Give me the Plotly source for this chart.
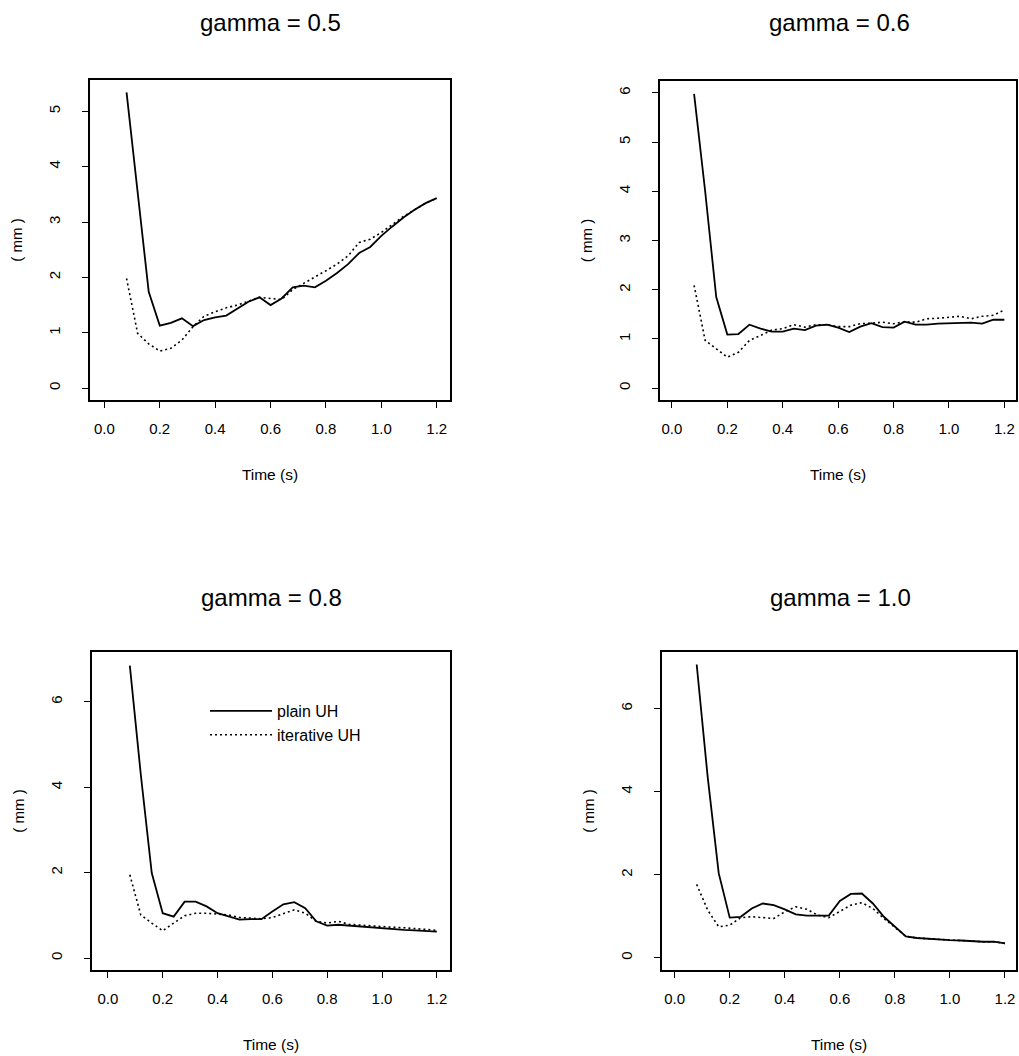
import plotly.graph_objects as go

# ---- data ----
time_s = [0.08, 0.12, 0.16, 0.20, 0.24, 0.28, 0.32, 0.36, 0.40, 0.44, 0.48, 0.52, 0.56, 0.60,
          0.64, 0.68, 0.72, 0.76, 0.80, 0.84, 0.88, 0.92, 0.96, 1.00, 1.04, 1.08, 1.12, 1.16, 1.20]

titles = ["gamma = 0.5", "gamma = 0.6", "gamma = 0.8", "gamma = 1.0"]

plain_g05 = [5.34, 3.55, 1.74, 1.13, 1.18, 1.26, 1.12, 1.23, 1.28, 1.31, 1.44, 1.56, 1.64, 1.50,
             1.62, 1.82, 1.85, 1.82, 1.94, 2.08, 2.24, 2.44, 2.55, 2.75, 2.92, 3.08, 3.22, 3.34, 3.43]
iter_g05 = [1.98, 0.99, 0.80, 0.67, 0.72, 0.87, 1.11, 1.30, 1.38, 1.45, 1.50, 1.57, 1.64, 1.62,
            1.60, 1.78, 1.89, 2.00, 2.12, 2.24, 2.39, 2.63, 2.69, 2.81, 2.95, 3.10, 3.22, 3.34, 3.43]

plain_g06 = [5.98, 4.00, 1.85, 1.09, 1.10, 1.29, 1.21, 1.15, 1.15, 1.21, 1.18, 1.27, 1.29, 1.23,
             1.14, 1.25, 1.32, 1.24, 1.23, 1.35, 1.29, 1.29, 1.31, 1.32, 1.33, 1.33, 1.31, 1.39, 1.39]
iter_g06 = [2.09, 0.97, 0.80, 0.63, 0.73, 0.97, 1.07, 1.18, 1.21, 1.29, 1.24, 1.29, 1.29, 1.25,
            1.25, 1.31, 1.32, 1.34, 1.31, 1.35, 1.34, 1.41, 1.42, 1.44, 1.46, 1.41, 1.46, 1.48, 1.59]

plain_g08 = [6.85, 4.30, 1.99, 1.05, 0.97, 1.32, 1.32, 1.21, 1.05, 0.97, 0.90, 0.91, 0.91, 1.09,
             1.26, 1.31, 1.17, 0.86, 0.76, 0.78, 0.76, 0.74, 0.71, 0.69, 0.68, 0.66, 0.65, 0.63, 0.62]
iter_g08 = [1.95, 1.01, 0.82, 0.64, 0.82, 0.99, 1.05, 1.05, 1.03, 1.01, 0.95, 0.93, 0.92, 0.95,
            1.04, 1.13, 1.05, 0.86, 0.82, 0.86, 0.79, 0.77, 0.76, 0.74, 0.72, 0.71, 0.69, 0.68, 0.65]

plain_g10 = [7.06, 4.35, 2.04, 0.97, 0.99, 1.19, 1.31, 1.27, 1.17, 1.05, 1.02, 1.02, 1.02, 1.37,
             1.54, 1.55, 1.31, 0.99, 0.75, 0.52, 0.48, 0.46, 0.45, 0.43, 0.42, 0.40, 0.39, 0.39, 0.35]
iter_g10 = [1.77, 1.15, 0.75, 0.79, 0.97, 0.99, 0.97, 0.95, 1.11, 1.23, 1.17, 1.03, 0.97, 1.11,
            1.27, 1.33, 1.19, 0.95, 0.73, 0.52, 0.48, 0.46, 0.45, 0.43, 0.42, 0.40, 0.39, 0.39, 0.35]

plain_series = [plain_g05, plain_g06, plain_g08, plain_g10]
iter_series = [iter_g05, iter_g06, iter_g08, iter_g10]

x_tick_vals = [0.0, 0.2, 0.4, 0.6, 0.8, 1.0, 1.2]
x_tick_text = ["0.0", "0.2", "0.4", "0.6", "0.8", "1.0", "1.2"]
y_ticks = [[0, 1, 2, 3, 4, 5], [0, 1, 2, 3, 4, 5, 6], [0, 2, 4, 6], [0, 2, 4, 6]]

# ---- layout geometry (pixels) ----
W, H = 1019, 1056
boxes = [(90, 450, 80, 400), (660, 1016, 81, 400), (92, 450, 652, 970), (662, 1016, 652, 970)]
x_ranges = [(-0.052, 1.248), (-0.043, 1.242), (-0.058, 1.248), (-0.046, 1.24)]
y_ranges = [(-0.214, 5.564), (-0.24, 6.24), (-0.28, 7.17), (-0.29, 7.36)]

FONT = "Liberation Sans, Arial, Helvetica, sans-serif"

fig = go.Figure()
layout = dict(
    width=W, height=H, margin=dict(l=0, r=0, t=0, b=0),
    paper_bgcolor="white", plot_bgcolor="white",
    font=dict(family=FONT, color="black", size=15),
    showlegend=True,
    legend=dict(x=205 / W, y=1 - 694 / H, xanchor="left", yanchor="top",
                bgcolor="rgba(0,0,0,0)", font=dict(size=16, family=FONT),
                tracegroupgap=0, itemwidth=62),
)
annotations = []
for i in range(4):
    xa = "x" if i == 0 else f"x{i+1}"
    ya = "y" if i == 0 else f"y{i+1}"
    fig.add_trace(go.Scatter(x=time_s, y=plain_series[i], mode="lines", xaxis=xa, yaxis=ya,
                             line=dict(color="black", width=1.8), name="plain UH",
                             showlegend=(i == 2)))
    fig.add_trace(go.Scatter(x=time_s, y=iter_series[i], mode="lines", xaxis=xa, yaxis=ya,
                             line=dict(color="black", width=1.6, dash="2px,3px"), name="iterative UH",
                             showlegend=(i == 2)))
    l, r, t, b = boxes[i]
    common = dict(showline=True, mirror=True, linecolor="black", linewidth=1.5,
                  ticks="outside", ticklen=6, tickwidth=1, tickcolor="black",
                  showgrid=False, zeroline=False, tickfont=dict(size=15, family=FONT))
    layout["xaxis" + ("" if i == 0 else str(i + 1))] = dict(
        domain=[l / W, r / W], anchor=ya, range=list(x_ranges[i]),
        tickvals=x_tick_vals, ticktext=x_tick_text, ticklabelstandoff=8,
        title=dict(text="Time (s)", font=dict(size=15.5, family=FONT), standoff=33), **common)
    layout["yaxis" + ("" if i == 0 else str(i + 1))] = dict(
        domain=[1 - b / H, 1 - t / H], anchor=xa, range=list(y_ranges[i]),
        tickvals=y_ticks[i], tickangle=-90, ticklabelstandoff=16,
        title=dict(text="( mm )", font=dict(size=15, family=FONT), standoff=20), **common)
    annotations.append(dict(text=titles[i], xref="paper", yref="paper",
                            x=(l + r) / 2 / W if i % 2 == 0 else (l + 1019) / 2 / W,
                            y=1 - (23 if i < 2 else 597) / H,
                            xanchor="center", yanchor="middle", showarrow=False,
                            font=dict(size=24, family=FONT, color="black")))
layout["annotations"] = annotations
fig.update_layout(**layout)
fig.write_html("out.html", config={"displayModeBar": False},
               post_script="document.body.style.margin='0';document.body.style.overflow='hidden';")
